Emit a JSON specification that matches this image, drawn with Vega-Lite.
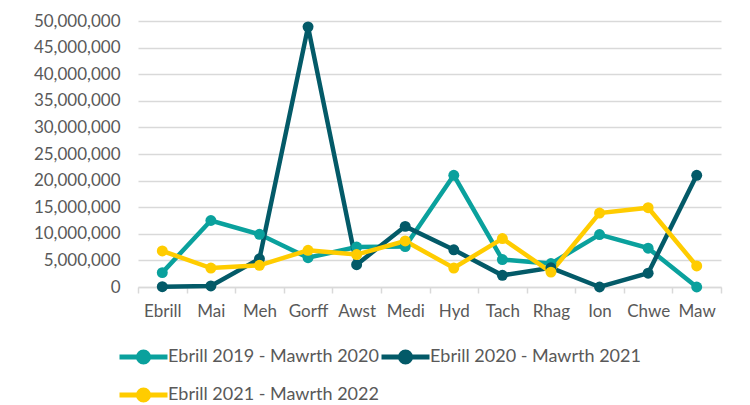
{
  "$schema": "https://vega.github.io/schema/vega-lite/v6.json",
  "autosize": "none",
  "width": 583,
  "height": 266,
  "padding": {"left": 138, "top": 21, "right": 29, "bottom": 118},
  "background": "white",
  "config": {
    "view": {"stroke": null},
    "font": "Lato",
    "axis": {"labelFont": "Lato", "labelColor": "#595959", "labelFontSize": 17}
  },
  "data": {
    "values": [
      {"month": "Ebrill", "series": "Ebrill 2019 - Mawrth 2020", "value": 2700000},
      {"month": "Mai", "series": "Ebrill 2019 - Mawrth 2020", "value": 12500000},
      {"month": "Meh", "series": "Ebrill 2019 - Mawrth 2020", "value": 9900000},
      {"month": "Gorff", "series": "Ebrill 2019 - Mawrth 2020", "value": 5500000},
      {"month": "Awst", "series": "Ebrill 2019 - Mawrth 2020", "value": 7500000},
      {"month": "Medi", "series": "Ebrill 2019 - Mawrth 2020", "value": 7600000},
      {"month": "Hyd", "series": "Ebrill 2019 - Mawrth 2020", "value": 21000000},
      {"month": "Tach", "series": "Ebrill 2019 - Mawrth 2020", "value": 5150000},
      {"month": "Rhag", "series": "Ebrill 2019 - Mawrth 2020", "value": 4400000},
      {"month": "Ion", "series": "Ebrill 2019 - Mawrth 2020", "value": 9850000},
      {"month": "Chwe", "series": "Ebrill 2019 - Mawrth 2020", "value": 7300000},
      {"month": "Maw", "series": "Ebrill 2019 - Mawrth 2020", "value": 0},
      {"month": "Ebrill", "series": "Ebrill 2020 - Mawrth 2021", "value": 50000},
      {"month": "Mai", "series": "Ebrill 2020 - Mawrth 2021", "value": 200000},
      {"month": "Meh", "series": "Ebrill 2020 - Mawrth 2021", "value": 5300000},
      {"month": "Gorff", "series": "Ebrill 2020 - Mawrth 2021", "value": 48900000},
      {"month": "Awst", "series": "Ebrill 2020 - Mawrth 2021", "value": 4200000},
      {"month": "Medi", "series": "Ebrill 2020 - Mawrth 2021", "value": 11400000},
      {"month": "Hyd", "series": "Ebrill 2020 - Mawrth 2021", "value": 7000000},
      {"month": "Tach", "series": "Ebrill 2020 - Mawrth 2021", "value": 2200000},
      {"month": "Rhag", "series": "Ebrill 2020 - Mawrth 2021", "value": 3600000},
      {"month": "Ion", "series": "Ebrill 2020 - Mawrth 2021", "value": 0},
      {"month": "Chwe", "series": "Ebrill 2020 - Mawrth 2021", "value": 2600000},
      {"month": "Maw", "series": "Ebrill 2020 - Mawrth 2021", "value": 21000000},
      {"month": "Ebrill", "series": "Ebrill 2021 - Mawrth 2022", "value": 6770000},
      {"month": "Mai", "series": "Ebrill 2021 - Mawrth 2022", "value": 3570000},
      {"month": "Meh", "series": "Ebrill 2021 - Mawrth 2022", "value": 4080000},
      {"month": "Gorff", "series": "Ebrill 2021 - Mawrth 2022", "value": 6900000},
      {"month": "Awst", "series": "Ebrill 2021 - Mawrth 2022", "value": 6100000},
      {"month": "Medi", "series": "Ebrill 2021 - Mawrth 2022", "value": 8650000},
      {"month": "Hyd", "series": "Ebrill 2021 - Mawrth 2022", "value": 3570000},
      {"month": "Tach", "series": "Ebrill 2021 - Mawrth 2022", "value": 9100000},
      {"month": "Rhag", "series": "Ebrill 2021 - Mawrth 2022", "value": 2800000},
      {"month": "Ion", "series": "Ebrill 2021 - Mawrth 2022", "value": 13900000},
      {"month": "Chwe", "series": "Ebrill 2021 - Mawrth 2022", "value": 14900000},
      {"month": "Maw", "series": "Ebrill 2021 - Mawrth 2022", "value": 3950000}
    ]
  },
  "encoding": {
    "x": {
      "field": "month", "type": "nominal",
      "sort": ["Ebrill", "Mai", "Meh", "Gorff", "Awst", "Medi", "Hyd", "Tach", "Rhag", "Ion", "Chwe", "Maw"],
      "scale": {"paddingInner": 0, "paddingOuter": 0},
      "axis": {
        "title": null, "labelAngle": 0, "domainColor": "#d9d9d9", "domainWidth": 1.5,
        "tickColor": "#d9d9d9", "tickWidth": 1.5, "tickSize": 6, "tickBand": "extent",
        "labelPadding": 10, "grid": false
      }
    },
    "y": {
      "field": "value", "type": "quantitative",
      "scale": {"domain": [0, 50000000], "nice": false},
      "axis": {
        "title": null, "format": ",d", "values": [0,5000000,10000000,15000000,20000000,25000000,30000000,35000000,40000000,45000000,50000000],
        "domain": false, "ticks": false, "labelPadding": 18, "labelOverlap": false,
        "gridColor": "#d9d9d9", "gridWidth": 1.5
      }
    },
    "color": {
      "field": "series", "type": "nominal",
      "scale": {
        "domain": ["Ebrill 2019 - Mawrth 2020", "Ebrill 2020 - Mawrth 2021", "Ebrill 2021 - Mawrth 2022"],
        "range": ["#0aa19d", "#035a68", "#ffcc00"]
      },
      "legend": {
        "title": null, "orient": "none", "legendX": -21, "legendY": 324,
        "columns": 2, "direction": "horizontal",
        "symbolType": "M -1 0 L 1 0 M 0.21 0 A 0.21 0.21 0 1 1 -0.21 0 A 0.21 0.21 0 1 1 0.21 0 Z",
        "symbolSize": 2304, "symbolStrokeWidth": 5, "symbolOpacity": 1,
        "labelFont": "Lato", "labelFontSize": 18, "labelColor": "#595959", "labelOffset": -2,
        "columnPadding": 0, "rowPadding": 14, "clipHeight": 24, "labelLimit": 300
      }
    }
  },
  "layer": [
    {"mark": {"type": "line", "strokeWidth": 4.5}},
    {"mark": {"type": "point", "filled": true, "size": 120, "opacity": 1}}
  ]
}
